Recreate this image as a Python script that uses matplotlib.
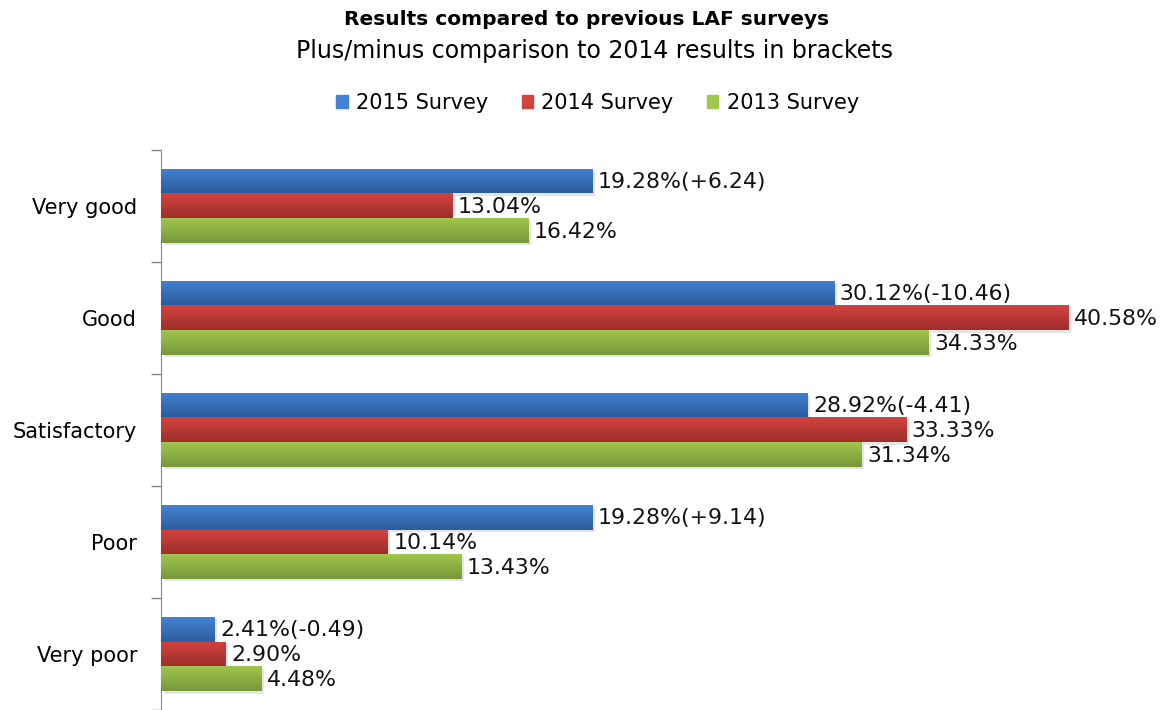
import matplotlib
matplotlib.use("Agg")
import matplotlib.pyplot as plt
import numpy as np
from matplotlib.colors import LinearSegmentedColormap

categories = ["Very good", "Good", "Satisfactory", "Poor", "Very poor"]
series_names = ["2015 Survey", "2014 Survey", "2013 Survey"]
values_2015 = [19.28, 30.12, 28.92, 19.28, 2.41]
values_2014 = [13.04, 40.58, 33.33, 10.14, 2.90]
values_2013 = [16.42, 34.33, 31.34, 13.43, 4.48]
change_2015 = ["+6.24", "-10.46", "-4.41", "+9.14", "-0.49"]

# (top colour, bottom colour) of each bar gradient
colours = [("#4282d3", "#2c5d9c"), ("#d4423e", "#9e2f2c"), ("#9fc74c", "#76973a")]

plt.rcParams["font.family"] = ["DejaVu Sans"]

fig = plt.figure(figsize=(11.74, 7.10), dpi=100)
ax = fig.add_axes([0.137, 0.0, 0.857, 0.789])

y = np.arange(len(categories))
h = 0.222
offsets = [-h, 0, h]
all_vals = [values_2015, values_2014, values_2013]

for k, (vals, (ctop, cbot), name) in enumerate(zip(all_vals, colours, series_names)):
    bars = ax.barh(y + offsets[k], vals, height=h, color=ctop, label=name,
                   edgecolor="none", zorder=2)
    cmap = LinearSegmentedColormap.from_list("g%d" % k, [ctop, cbot])
    grad = np.linspace(0, 1, 64).reshape(-1, 1)
    for b in bars:
        x0, y0 = b.get_x(), b.get_y()
        w, hh = b.get_width(), b.get_height()
        # soft shadow
        ax.barh(y0 + hh / 2 + 0.02, w, height=hh, left=0.12, color="#000000",
                alpha=0.10, edgecolor="none", zorder=1)
        im = ax.imshow(grad, cmap=cmap, aspect="auto", zorder=3,
                       extent=(x0, x0 + w, y0 + hh, y0), interpolation="bicubic")
        im.set_clip_path(b)
    for i, v in enumerate(vals):
        txt = f"{v:.2f}%"
        if k == 0:
            txt += f"({change_2015[i]})"
        ax.text(v + 0.25, y[i] + offsets[k] + 0.01, txt, va="center", ha="left",
                fontsize=15.8, color="#111111", zorder=4)

ax.set_xlim(0, 45)
ax.set_ylim(len(categories) - 0.5, -0.5)
ax.set_yticks(y)
ax.set_yticklabels(categories, fontsize=15)
ax.tick_params(axis="y", which="major", length=0, pad=17)
ax.set_yticks(np.arange(len(categories) + 1) - 0.5, minor=True)
ax.tick_params(axis="y", which="minor", length=7, color="#888888", width=1)
ax.set_xticks([])
for s in ["top", "right", "bottom"]:
    ax.spines[s].set_visible(False)
ax.spines["left"].set_color("#888888")

fig.text(0.500, 0.972, "Results compared to previous LAF surveys",
         ha="center", va="center", fontsize=14.5, fontweight="bold")
fig.text(0.506, 0.928, "Plus/minus comparison to 2014 results in brackets",
         ha="center", va="center", fontsize=17)

handles = [plt.Rectangle((0, 0), 1, 1, color=c[0]) for c in colours]
fig.legend(handles, series_names, loc="center", bbox_to_anchor=(0.509, 0.855),
           ncol=3, frameon=False, fontsize=15, handlelength=0.55, handleheight=0.55,
           handletextpad=0.4, columnspacing=1.6)

fig.savefig("out.png", dpi=100)
